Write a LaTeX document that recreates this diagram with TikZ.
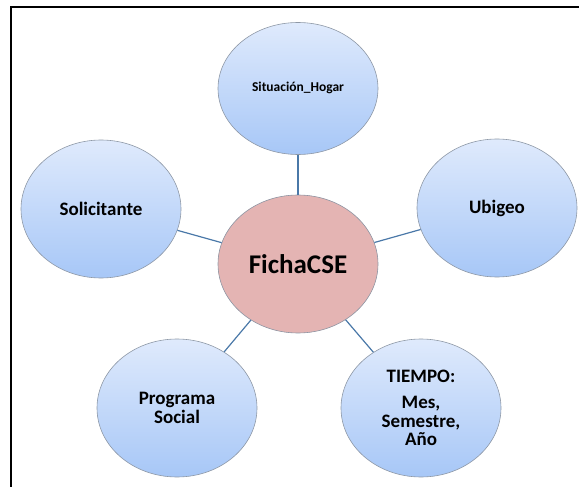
\documentclass[tikz,border=0pt]{standalone}
\usepackage{fontspec}
\setmainfont{Carlito}
\usepackage{xcolor}
\usepackage{tikz}
\usetikzlibrary{shapes.geometric}

\definecolor{BubbleTop}{HTML}{DFEAFC}
\definecolor{BubbleBottom}{HTML}{A7C7F7}
\definecolor{HubFill}{HTML}{E4B4B3}
\definecolor{RimGray}{HTML}{8E98A6}
\definecolor{LinkBlue}{HTML}{4A78A8}

\begin{document}
\begin{tikzpicture}[x=1pt,y=-1pt,
    bubble/.style={ellipse,draw=RimGray,line width=0.6pt,top color=BubbleTop,bottom color=BubbleBottom,
      minimum width=160pt,minimum height=138pt,inner sep=0pt,align=center,font=\bfseries\fontsize{19}{18.5}\selectfont},
    hub/.style={bubble,fill=HubFill,top color=HubFill,bottom color=HubFill,font=\bfseries\fontsize{27}{30}\selectfont},
    link/.style={draw=LinkBlue,line width=1.2pt}]

    \useasboundingbox (0,0) rectangle (579,487);
    \draw[line width=1.3pt] (11,487) -- (11,7) -- (579,7);

    \node[hub] (ficha) at (298,264) {FichaCSE};

    \node[bubble,minimum height=132pt,font=\bfseries\fontsize{13.5}{15}\selectfont] (hogar) at (298,88.5) {\raisebox{3pt}{Situación\_Hogar}};
    \node[bubble] (solicitante) at (101,209) {Solicitante};
    \node[bubble] (ubigeo) at (497,208) {Ubigeo};
    \node[bubble] (programa) at (177,408) {Programa\\Social};
    \node[bubble] (tiempo) at (421,408) {TIEMPO:\\[8pt]Mes,\\Semestre,\\Año};

    \draw[link] (ficha) -- (hogar);
    \draw[link] (ficha) -- (solicitante);
    \draw[link] (ficha) -- (ubigeo);
    \draw[link] (ficha) -- (programa);
    \draw[link] (ficha) -- (tiempo);
\end{tikzpicture}
\end{document}
